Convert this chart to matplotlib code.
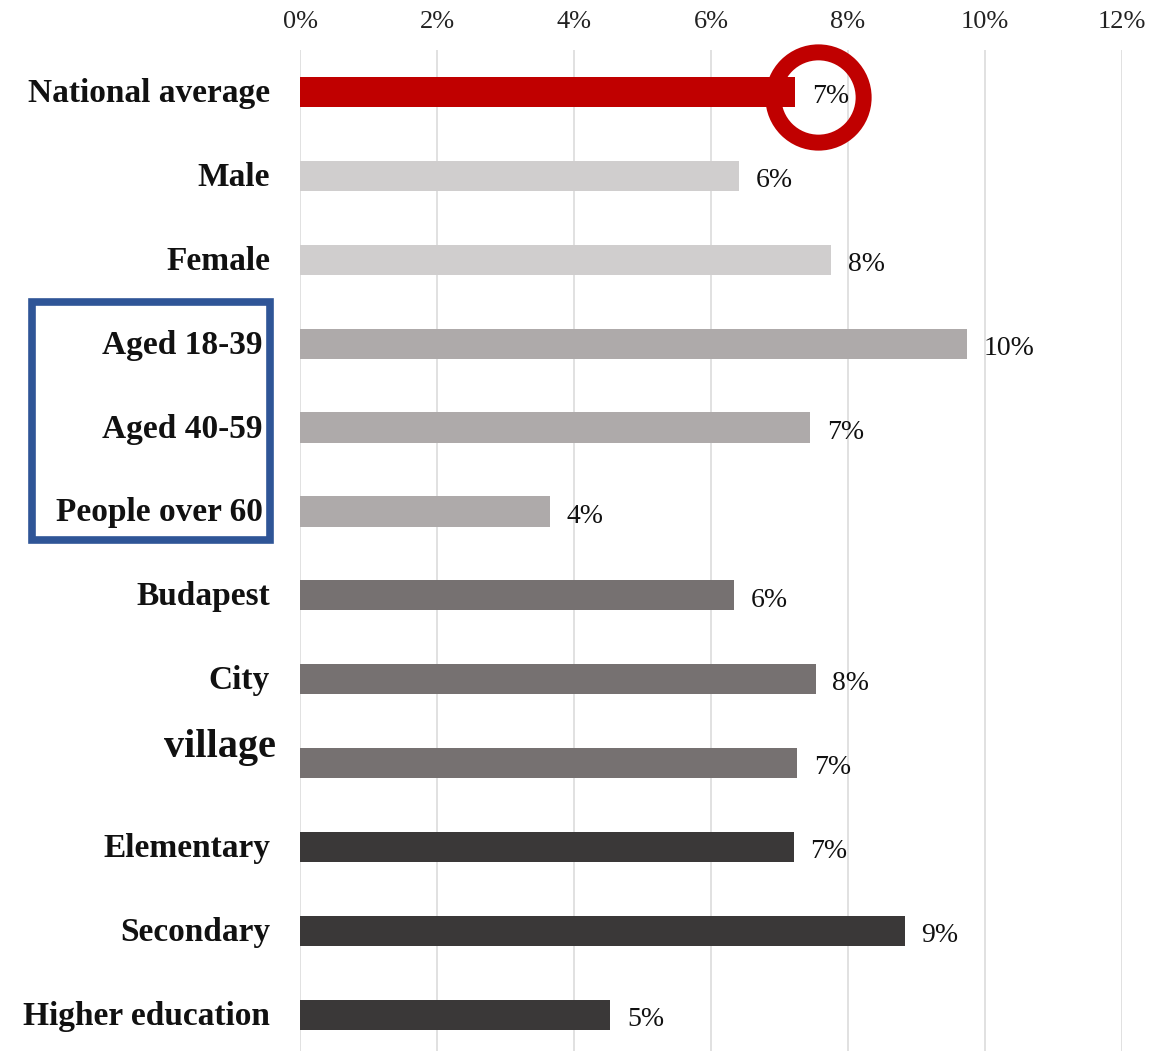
import matplotlib
matplotlib.use("Agg")
import matplotlib.pyplot as plt
from matplotlib.patches import Rectangle

# ---------------------------------------------------------------------------
# Data (in percent)
# ---------------------------------------------------------------------------
categories = ["National average", "Male", "Female", "Aged 18-39", "Aged 40-59",
              "People over 60", "Budapest", "City", "village", "Elementary",
              "Secondary", "Higher education"]
values = [7.23, 6.41, 7.75, 9.74, 7.45, 3.65, 6.34, 7.53, 7.26, 7.21, 8.83, 4.53]
bar_colors = ["#C00000", "#D0CECE", "#D0CECE", "#AEAAAA", "#AEAAAA", "#AEAAAA",
              "#767171", "#767171", "#767171", "#3A3838", "#3A3838", "#3A3838"]
xticks = [0, 2, 4, 6, 8, 10, 12]
xtick_labels = ["0%", "2%", "4%", "6%", "8%", "10%", "12%"]
highlight_x = 7.56   # centre of the red ring around the national average

W, H = 1163, 1051
DPI = 100
SERIF = ["Liberation Serif", "DejaVu Serif"]

fig = plt.figure(figsize=(W / DPI, H / DPI), dpi=DPI)
ax = fig.add_axes([300 / W, 0, (1122 - 300) / W, (H - 50) / H])

y = list(range(len(categories)))
ax.barh(y, values, height=0.36, color=bar_colors, zorder=3)
ax.set_ylim(11.43, -0.5)
ax.set_xlim(0, 12)

# grid and top axis labels
ax.set_xticks(xticks)
ax.xaxis.grid(True, color="#D9D9D9", linewidth=1.1, zorder=0)
ax.tick_params(axis="x", length=0, top=False, bottom=False,
               labeltop=True, labelbottom=False, pad=12)
ax.set_xticklabels(xtick_labels, family=SERIF, fontsize=19, color="#222222")
ax.set_yticks([])
for s in ax.spines.values():
    s.set_visible(False)

# value labels (baseline sits ~11 px under the bar centre)
for i, v in enumerate(values):
    ax.annotate(f"{round(v)}%", (v, i), xytext=(12, -8), textcoords="offset points",
                va="baseline", ha="left", family=SERIF, fontsize=20, color="#111111",
                zorder=4)

# category labels (drawn in pixels from the figure's left)
for i, name in enumerate(categories):
    yd = ax.transData.transform((0, i))[1]
    right = 270
    size = 24
    base = -10
    if name in ("Aged 18-39", "Aged 40-59", "People over 60"):
        right = 263
    if name == "village":
        right = 276
        size = 29
        base = 6
    fig.text(right / W, (yd + base) / H, name, ha="right", va="baseline",
             family=SERIF, fontweight="bold", fontsize=size, color="#111111")

# red ring around the national average value
ax.plot([highlight_x], [0.06], marker="o", markersize=65, markerfacecolor="none",
        markeredgecolor="#C00000", markeredgewidth=11.5, zorder=5, clip_on=False)

# blue box around the age groups
fig.patches.append(Rectangle((32 / W, 1 - 540 / H), (270 - 32) / W, (540 - 302) / H,
                             transform=fig.transFigure, fill=False,
                             edgecolor="#2F5597", linewidth=5.5))

fig.savefig("out.png", dpi=DPI)
